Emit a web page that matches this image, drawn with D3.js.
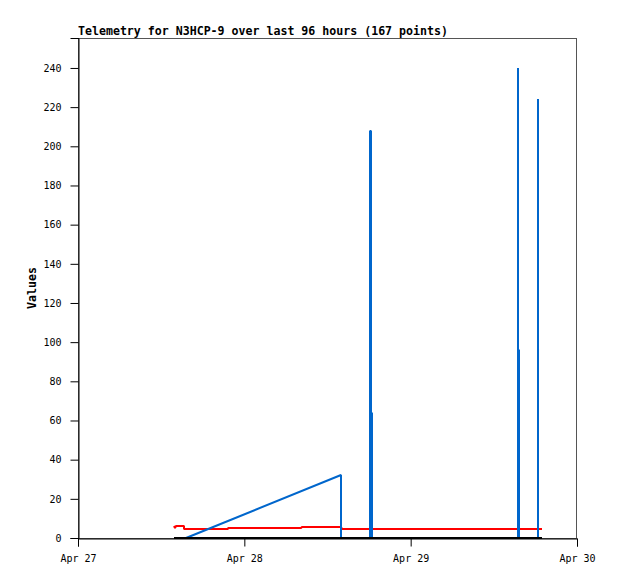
<!DOCTYPE html>
<html>
<head>
<meta charset="utf-8">
<script src="https://cdn.jsdelivr.net/npm/d3@7"></script>
<style>
  body { margin: 0; background: #fff; }
  text { font-family: "DejaVu Sans Mono", monospace; }
</style>
</head>
<body>
<script>
// Datos: cada serie es [fecha UTC, valor]
const titleText = "Telemetry for N3HCP-9 over last 96 hours (167 points)";
const yLabel = "Values";
const xDomain = ["2024-04-27T00:00Z", "2024-04-30T00:00Z"];
const xTicks = ["2024-04-27T00:00Z", "2024-04-28T00:00Z", "2024-04-29T00:00Z", "2024-04-30T00:00Z"];
const yTicks = [0, 20, 40, 60, 80, 100, 120, 140, 160, 180, 200, 220, 240];

const redSeries = [
  ["2024-04-27T13:51Z", 6.0], ["2024-04-27T14:03Z", 4.9], ["2024-04-27T14:12Z", 6.0],
  ["2024-04-27T15:14Z", 6.0], ["2024-04-27T15:20Z", 4.8], ["2024-04-27T21:36Z", 4.8],
  ["2024-04-27T21:42Z", 5.3], ["2024-04-28T08:14Z", 5.3], ["2024-04-28T08:20Z", 5.8],
  ["2024-04-28T13:57Z", 5.8], ["2024-04-28T14:05Z", 4.7], ["2024-04-29T18:57Z", 4.7]
];

const blueSeries = [
  ["2024-04-27T15:35Z", 0], ["2024-04-28T13:57Z", 32], ["2024-04-28T13:57Z", 0],
  ["2024-04-28T18:08Z", 0], ["2024-04-28T18:08Z", 208], ["2024-04-28T18:17Z", 208],
  ["2024-04-28T18:17Z", 64], ["2024-04-28T18:25Z", 64], ["2024-04-28T18:25Z", 0],
  ["2024-04-29T15:29Z", 0], ["2024-04-29T15:29Z", 240], ["2024-04-29T15:29Z", 96],
  ["2024-04-29T15:38Z", 96], ["2024-04-29T15:38Z", 0],
  ["2024-04-29T18:23Z", 0], ["2024-04-29T18:23Z", 224], ["2024-04-29T18:24Z", 0],
  ["2024-04-29T18:57Z", 0]
];

const blackSeries = [
  ["2024-04-27T13:51Z", 0], ["2024-04-29T18:57Z", 0]
];

// Tamaño
const [w, h] = [618, 579];
const margin = { top: 38, right: 41, bottom: 41, left: 78 };

const svg = d3.select("body")
  .append("svg")
  .attr("width", w)
  .attr("height", h);

// Escalas
const xScale = d3.scaleUtc()
  .domain(xDomain.map((d) => new Date(d)))
  .range([margin.left, w - margin.right]);

const yScale = d3.scaleLinear()
  .domain([0, 255.3])
  .range([h - margin.bottom, margin.top]);

// Marco
svg.append("rect")
  .attr("x", margin.left + 0.5)
  .attr("y", margin.top + 0.5)
  .attr("width", w - margin.left - margin.right - 1)
  .attr("height", h - margin.top - margin.bottom)
  .attr("fill", "none")
  .attr("stroke", "#555")
  .attr("stroke-width", 1);

// Eje Y
const yAxis = d3.axisLeft(yScale)
  .tickValues(yTicks)
  .tickSize(8)
  .tickPadding(9);

svg.append("g")
  .attr("transform", "translate(" + (margin.left + 0.5) + ",0)")
  .call(yAxis)
  .call((g) => g.selectAll("text").attr("font-size", 10).attr("font-family", "DejaVu Sans Mono").attr("fill", "#000"));

// Eje X
const xAxis = d3.axisBottom(xScale)
  .tickValues(xTicks.map((d) => new Date(d)))
  .tickFormat(d3.utcFormat("%b %d"))
  .tickSize(8)
  .tickPadding(8);

svg.append("g")
  .attr("transform", "translate(0," + (h - margin.bottom + 0.5) + ")")
  .call(xAxis)
  .call((g) => g.selectAll("text").attr("font-size", 10).attr("font-family", "DejaVu Sans Mono").attr("fill", "#000"));

// Series (redondeo a píxel para que las verticales salgan nítidas)
const line = d3.line()
  .x((d) => Math.round(xScale(new Date(d[0]))))
  .y((d) => Math.round(yScale(d[1])));

[[redSeries, "#ff0000"], [blueSeries, "#0066cc"], [blackSeries, "#000000"]].forEach(([s, c]) => {
  svg.append("path")
    .datum(s)
    .attr("d", line)
    .attr("fill", "none")
    .attr("stroke", c)
    .attr("stroke-width", 2)
    .attr("stroke-linejoin", "bevel");
});

// Títulos
svg.append("text")
  .attr("x", margin.left)
  .attr("y", 35)
  .attr("font-size", 11.6)
  .attr("font-weight", "bold")
  .text(titleText);

svg.append("text")
  .attr("transform", "translate(36," + ((margin.top + h - margin.bottom) / 2) + ") rotate(-90)")
  .attr("text-anchor", "middle")
  .attr("font-size", 11.6)
  .attr("font-weight", "bold")
  .text(yLabel);
</script>
</body>
</html>
